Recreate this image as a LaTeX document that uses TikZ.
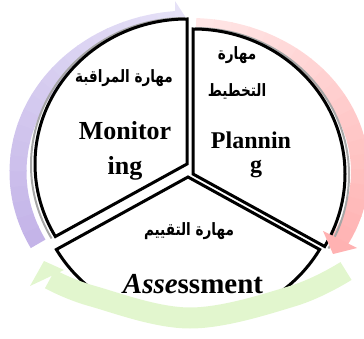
\documentclass[tikz,border=0pt]{standalone}
\usepackage{fontspec}
\setmainfont{Liberation Serif}
\newfontfamily\arabicfont[Script=Arabic]{DejaVu Sans}
\TeXXeTstate=1
\usetikzlibrary{calc}
\definecolor{purpL}{RGB}{230,226,247}
\definecolor{purpD}{RGB}{196,180,232}
\definecolor{pinkL}{RGB}{255,230,230}
\definecolor{pinkD}{RGB}{255,178,178}
\definecolor{grn}{RGB}{226,246,206}
\newcommand{\artxt}[1]{\scalebox{0.8}[1]{\beginR #1\endR}}
\tikzset{
  wedgebox/.style={draw=black, line width=3pt, fill=white, line join=miter},
  wedgeshadow/.style={draw=black!35, line width=2pt},
  entext/.style={font=\fontsize{24}{24}\selectfont\bfseries, inner sep=0pt, anchor=base},
  artext/.style={font=\arabicfont\fontsize{17}{17}\selectfont\bfseries, inner sep=0pt},
}
\begin{document}
\begin{tikzpicture}[x=1pt,y=-1pt]
\useasboundingbox (0,0) rectangle (364,339);
\coordinate (C1) at (190,172);
\coordinate (C2) at (190,172);
\coordinate (M) at (187,164);
\coordinate (P) at (193,174);
\coordinate (A) at (188,177);
% purple arrow
\foreach \i in {0,...,19}{
  \pgfmathsetmacro\sa{152+\i*5.65}
  \pgfmathtruncatemacro\pc{100-\i*5}
  \draw[line width=17pt, purpD!\pc!purpL] ($(C1)+(\sa:172 and 153)$) arc[start angle=\sa, delta angle=6.1, x radius=172, y radius=153];
}
\fill[purpL] (175,1) -- (188,21) -- (175,39) -- cycle;
% pink arrow
\foreach \i in {0,...,19}{
  \pgfmathsetmacro\sa{-88+\i*5.8}
  \pgfmathtruncatemacro\pc{\i*5}
  \draw[line width=18pt, pinkD!\pc!pinkL] ($(C2)+(\sa:170 and 145)$) arc[start angle=\sa, delta angle=6.2, x radius=170, y radius=145];
}
% wedge shadows
\draw[wedgeshadow] ($(M)+(-2,1)$) ++(-90:154 and 147) arc[start angle=-90, end angle=-210, x radius=154, y radius=147];
\draw[wedgeshadow] ($(P)+(2,1)$) ++(-90:154 and 147) arc[start angle=-90, end angle=30, x radius=154, y radius=147];
% wedges
\draw[wedgebox] (M) -- ++(-90:152 and 145) arc[start angle=-90, end angle=-210, x radius=152, y radius=145] -- cycle;
\draw[wedgebox] (P) -- ++(-90:152 and 145) arc[start angle=-90, end angle=30, x radius=152, y radius=145] -- cycle;
\draw[wedgebox] (A) -- ++(150:152 and 145) arc[start angle=150, end angle=30, x radius=152, y radius=145] -- cycle;
\fill[pinkD] (323,231) -- (333,254) -- (357,248) -- cycle;
% green arrow
\draw[line width=21pt, grn] plot[smooth, tension=0.6] coordinates {(346,271) (293,296) (190,318) (92,296) (50,279)};
\fill[grn] (30,286) -- (44,261) -- (64,270) -- cycle;
% texts
\node[artext] (mt) at (124,78) {\artxt{مهارة المراقبة}};
\node[entext, font=\fontsize{26}{26}\selectfont\bfseries] (m1) at (125,140) {Monitor};
\node[entext, font=\fontsize{26}{26}\selectfont\bfseries] (m2) at (125,175) {ing};
\node[artext] (pt1) at (237,55) {\artxt{مهارة}};
\node[artext] (pt2) at (237,91) {\artxt{التخطيط}};
\node[entext] (p1) at (251,149) {Plannin};
\node[entext] (p2) at (256,173) {g};
\node[artext] (at) at (189,231) {\artxt{مهارة التقييم}};
\node[entext, font=\fontsize{29}{29}\selectfont\bfseries] (a1) at (193,293) {\textit{Asse}ssment};
\end{tikzpicture}
\end{document}
